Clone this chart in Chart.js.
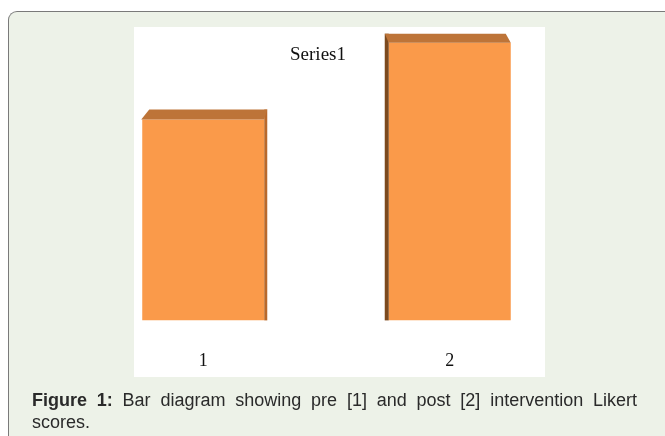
<!DOCTYPE html>
<html>
<head>
<meta charset="utf-8">
<script src="https://cdn.jsdelivr.net/npm/chart.js@4"></script>
<style>
html, body { margin: 0; overflow: hidden; }
body { width: 665px; height: 436px; position: relative; background: #fff; font-family: "Liberation Sans", Arial, sans-serif; }
#painel { position: absolute; left: 8px; top: 11px; right: -40px; bottom: -40px; background: #edf2e8; border-left: 1.5px solid #7a7a7a; border-top: 1.5px solid #7a7a7a; border-top-left-radius: 9px; }
#branco { position: absolute; left: 134px; top: 27px; width: 411px; height: 350px; background: #fff; }
#grafico { position: absolute; left: 0; top: 0; }
#legenda { position: absolute; left: 32px; top: 389px; width: 605px; font-size: 18px; line-height: 22px; text-align: justify; color: #2a2a2a; }
</style>
</head>
<body>
<div id="painel"></div>
<div id="branco"></div>
<canvas id="grafico" width="665" height="436"></canvas>
<div id="legenda"><b>Figure 1:</b> Bar diagram showing pre [1] and post [2] intervention Likert scores.</div>
<script>
const categorias = ['1', '2'];
const serie1 = [3.4, 4.7]; // pre e pos intervencao
const nomeSerie = 'Series1';

// desenha o "3D" das barras: face de cima e lateral
const efeito3D = {
    id: 'efeito3D',
    afterDatasetsDraw(chart) {
        const ctx = chart.ctx;
        chart.getDatasetMeta(0).data.forEach((barra, i) => {
            const esq = barra.x - barra.width / 2;
            const dir = barra.x + barra.width / 2;
            const topo = barra.y;
            const base = barra.base;
            ctx.save();
            if (i === 0) {
                // lateral direita
                ctx.fillStyle = '#b8692c';
                ctx.fillRect(dir, topo - 10, 3, base - topo + 10);
                ctx.fillStyle = '#bd7438';
                ctx.beginPath();
                ctx.moveTo(esq - 1, topo);
                ctx.lineTo(esq + 7, topo - 10);
                ctx.lineTo(dir + 3, topo - 10);
                ctx.lineTo(dir, topo);
                ctx.closePath();
                ctx.fill();
            } else {
                // lateral esquerda
                ctx.fillStyle = '#7c4a1e';
                ctx.fillRect(esq - 4, topo - 9, 4, base - topo + 9);
                ctx.fillStyle = '#bd7438';
                ctx.beginPath();
                ctx.moveTo(esq - 4, topo - 9);
                ctx.lineTo(dir - 5, topo - 9);
                ctx.lineTo(dir, topo);
                ctx.lineTo(esq, topo);
                ctx.closePath();
                ctx.fill();
            }
            ctx.restore();
        });
        // nome da serie
        ctx.save();
        ctx.font = '19px "Liberation Serif", "Times New Roman", serif';
        ctx.fillStyle = '#111';
        ctx.textAlign = 'center';
        ctx.textBaseline = 'middle';
        ctx.fillText(nomeSerie, 318, 55);
        ctx.restore();
    }
};

const ctx = document.getElementById('grafico').getContext('2d');
const grafico = new Chart(ctx, {
    type: 'bar',
    data: {
        labels: categorias,
        datasets: [{
            label: nomeSerie,
            data: serie1,
            backgroundColor: '#fa9a4a',
            borderWidth: 0,
            barPercentage: 0.495,
            categoryPercentage: 1
        }]
    },
    options: {
        responsive: false,
        animation: false,
        layout: { padding: { left: 80, right: 92, top: 25, bottom: 42 } },
        plugins: { legend: { display: false }, title: { display: false }, tooltip: { enabled: false } },
        scales: {
            x: {
                grid: { display: false },
                border: { display: false },
                ticks: { color: '#111', padding: 22, font: { family: '"Liberation Serif", "Times New Roman", serif', size: 18 } }
            },
            y: {
                display: false,
                min: 0,
                max: 5
            }
        }
    },
    plugins: [efeito3D]
});
</script>
</body>
</html>
